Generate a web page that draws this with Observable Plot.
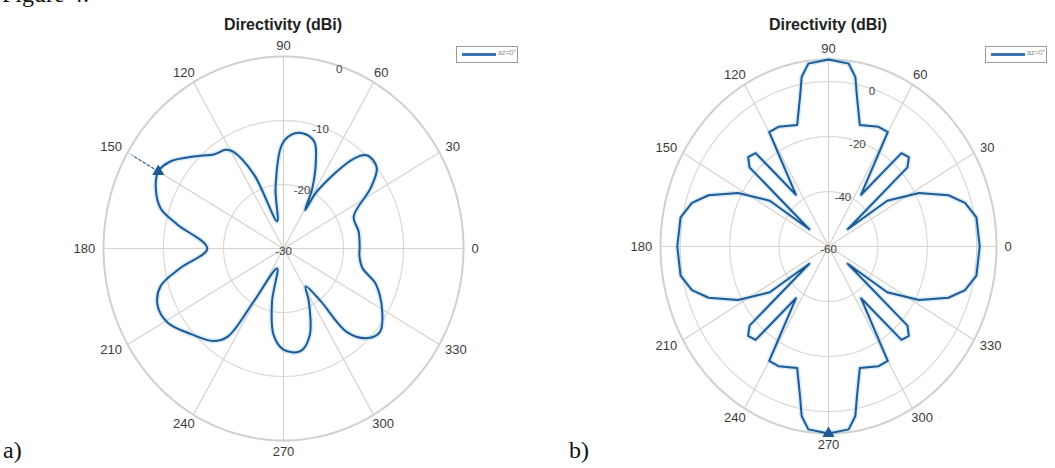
<!DOCTYPE html>
<html><head><meta charset="utf-8">
<script src="https://cdn.jsdelivr.net/npm/d3@7"></script>
<script src="https://cdn.jsdelivr.net/npm/@observablehq/plot@0.6"></script>
<style>
html,body{margin:0;padding:0;background:#fff;}
#wrap{position:relative;width:1055px;height:468px;overflow:hidden;font-family:"Liberation Sans",Arial,sans-serif;}
.title{position:absolute;font-weight:bold;font-size:16px;color:#222;transform:translateX(-50%);white-space:nowrap;}
.serif{position:absolute;font-family:"Liberation Serif","DejaVu Serif",serif;font-size:24px;color:#111;white-space:nowrap;}
.legend{position:absolute;border:1px solid #9a9a9a;background:#fff;height:15px;}
.legend .ln{position:absolute;left:5px;top:6px;width:34px;height:3px;background:#3d74b0;}
.legend .lt{position:absolute;left:41px;top:2px;font-size:7px;color:#888;}
</style></head><body><div id="wrap"></div>
<script>
// ---------- data ----------
const angleTicks = [0, 30, 60, 90, 120, 150, 180, 210, 240, 270, 300, 330];
const titleText = "Directivity (dBi)";
const legendLabel = "az=0°";
const figureLabel = "Figure 4:";
const panelLabels = ["a)", "b)"];

// panel a)
const leftAngles = [0, 12, 23, 33, 39, 46, 50, 58, 59, 63, 69, 73, 80, 86, 91, 98, 104, 113, 119, 122, 128, 136, 144, 150, 156, 163, 168, 180, 190, 196, 203, 211, 221, 231, 236, 239, 251, 257, 263, 270, 280, 288, 297, 302, 307, 309, 315, 321, 329, 340, 347, 355, 360];
const leftValues = [-17.3, -17.2, -17.3, -12.7, -10, -9.8, -11.6, -19.5, -23, -19.4, -14.9, -12.5, -11.7, -12.2, -13.8, -20.5, -25.6, -17.5, -12.7, -11.8, -11.3, -9.3, -6.8, -5.9, -6.7, -8.6, -11.9, -17.3, -12.6, -8.7, -7.2, -7.5, -9.6, -11.4, -13.4, -20.3, -26.7, -21.5, -16.4, -14.2, -13.7, -15.8, -20.7, -23, -19.7, -13.2, -10.2, -9.3, -10.8, -13.6, -16.5, -17.3, -17.3];
const leftRingTicks = [-30, -20, -10, 0];
const leftRLim = [-30, 0];
const leftPeak = {angle: 150, value: -5.9};

// panel b)
const rightAngles = [0, 10, 16, 21, 28, 35, 39, 42, 45, 49, 55, 60, 65, 74, 78, 80, 83, 90, 97, 100, 102, 106, 115, 120, 125, 131, 135, 138, 141, 145, 152, 159, 164, 170, 180, 190, 196, 201, 208, 215, 219, 222, 225, 229, 235, 240, 245, 254, 258, 260, 263, 270, 277, 280, 282, 286, 295, 300, 305, 311, 315, 318, 321, 325, 332, 339, 344, 350, 360];
const rightValues = [1.2, 0.8, -2.5, -8, -18.5, -31, -50, -17, -14, -15, -37, -12, -12, -14, -4.5, 2.6, 7, 8, 7, 2.6, -4.5, -14, -12, -12, -37, -15, -14, -17, -50, -31, -18.5, -8, -2.5, 0.8, 1.2, 0.8, -2.5, -8, -18.5, -31, -50, -17, -14, -15, -37, -12, -12, -14, -4.5, 2.6, 7, 8, 7, 2.6, -4.5, -14, -12, -12, -37, -15, -14, -17, -50, -31, -18.5, -8, -2.5, 0.8, 1.2];
const rightRingTicks = [-60, -40, -20, 0];
const rightRLim = [-60, 8];
const rightPeak = {angle: 270, value: 8};

// ---------- drawing ----------
const rad = a => a * Math.PI / 180;

function polarChart(o) {
  const [r0, r1] = o.rlim;
  const norm = v => (v - r0) / (r1 - r0);
  const X = (a, v) => norm(v) * Math.cos(rad(a));
  const Y = (a, v) => norm(v) * Math.sin(rad(a));
  // angle-label placement: a gap outside the outer ring, widened by half the label width
  const LX = a => Math.cos(rad(a)) * (1 + (8 + 3.7 * String(a).length) / o.rx);
  const LY = a => Math.sin(rad(a)) * (1 + 11 / o.ry);
  const pts = o.angles.map((a, i) => ({a, v: o.values[i]}));
  const ringVals = Array.from(new Set([...o.rings.slice(1), r1]));
  const ringPts = ringVals.flatMap(v => d3.range(0, 361, 2).map(a => ({ring: v, a, v})));
  const marks = [
    Plot.line(ringPts.filter(d => d.ring !== r1), {x: d => X(d.a, d.v), y: d => Y(d.a, d.v), z: "ring", stroke: "#dcd8d4", strokeWidth: 1.2}),
    Plot.line(ringPts.filter(d => d.ring === r1), {x: d => X(d.a, d.v), y: d => Y(d.a, d.v), z: "ring", stroke: "#d0d0d0", strokeWidth: 2}),
    Plot.link(angleTicks, {x1: () => 0, y1: () => 0, x2: a => X(a, r1), y2: a => Y(a, r1), stroke: "#d6d2ce", strokeWidth: 1.2}),
    Plot.text(angleTicks, {x: LX, y: LY, text: a => String(a), fill: "#3a3a3a", fontSize: 13}),
    Plot.line(pts, {x: d => X(d.a, d.v), y: d => Y(d.a, d.v), stroke: "#a6d2f0", strokeWidth: 5, strokeOpacity: 0.45, curve: o.curve}),
    Plot.line(pts, {x: d => X(d.a, d.v), y: d => Y(d.a, d.v), stroke: "#1f5a94", strokeWidth: 2, curve: o.curve}),
    Plot.text(o.rings, {x: v => X(o.labelAngle, v), y: v => Y(o.labelAngle, v), text: v => String(v), fill: "#444", fontSize: 11.5, dy: o.labelDy})
  ];
  if (o.dashTo) {
    marks.push(Plot.link([o.peak], {x1: d => X(d.angle, d.value), y1: d => Y(d.angle, d.value), x2: d => o.dashTo * Math.cos(rad(d.angle)), y2: d => o.dashTo * Math.sin(rad(d.angle)), stroke: "#2a62a0", strokeWidth: 1.2, strokeDasharray: "3,2"}));
  }
  marks.push(Plot.dot([o.peak], {x: d => X(d.angle, d.value), y: d => Y(d.angle, d.value), symbol: "triangle", fill: "#1f5a94", r: 4.5}));
  return Plot.plot({
    width: o.width, height: o.height, margin: 0,
    x: {domain: [-1, 1], range: [o.cx - o.rx, o.cx + o.rx], axis: null},
    y: {domain: [-1, 1], range: [o.cy + o.ry, o.cy - o.ry], axis: null},
    style: {background: "transparent", fontFamily: "Liberation Sans, Arial, sans-serif", overflow: "visible"},
    marks
  });
}

const wrap = document.getElementById("wrap");

const left = polarChart({angles: leftAngles, values: leftValues, rlim: leftRLim, rings: leftRingTicks,
  width: 545, height: 468, cx: 283, cy: 248, rx: 180, ry: 192, labelAngle: 72, labelDy: 3, peak: leftPeak, dashTo: 0.97, curve: "catmull-rom"});
left.style.position = "absolute"; left.style.left = "0px"; left.style.top = "0px";
wrap.appendChild(left);

const right = polarChart({angles: rightAngles, values: rightValues, rlim: rightRLim, rings: rightRingTicks,
  width: 510, height: 468, cx: 283, cy: 246, rx: 168, ry: 187, labelAngle: 73, labelDy: 3, peak: rightPeak, dashTo: null, curve: "linear"});
right.style.position = "absolute"; right.style.left = "545px"; right.style.top = "0px";
wrap.appendChild(right);

function addDiv(cls, text, css) {
  const d = document.createElement("div");
  d.className = cls; d.textContent = text; Object.assign(d.style, css);
  wrap.appendChild(d); return d;
}
addDiv("title", titleText, {left: "283px", top: "16px"});
addDiv("title", titleText, {left: "828px", top: "16px"});
addDiv("serif", figureLabel, {left: "2px", top: "-19px"});
addDiv("serif", panelLabels[0], {left: "3px", top: "437px"});
addDiv("serif", panelLabels[1], {left: "569px", top: "437px"});
for (const lx of [456, 985]) {
  const lg = addDiv("legend", "", {left: lx + "px", top: "46px", width: "60px"});
  const ln = document.createElement("div"); ln.className = "ln"; lg.appendChild(ln);
  const lt = document.createElement("div"); lt.className = "lt"; lt.textContent = legendLabel; lg.appendChild(lt);
}
</script></body></html>
